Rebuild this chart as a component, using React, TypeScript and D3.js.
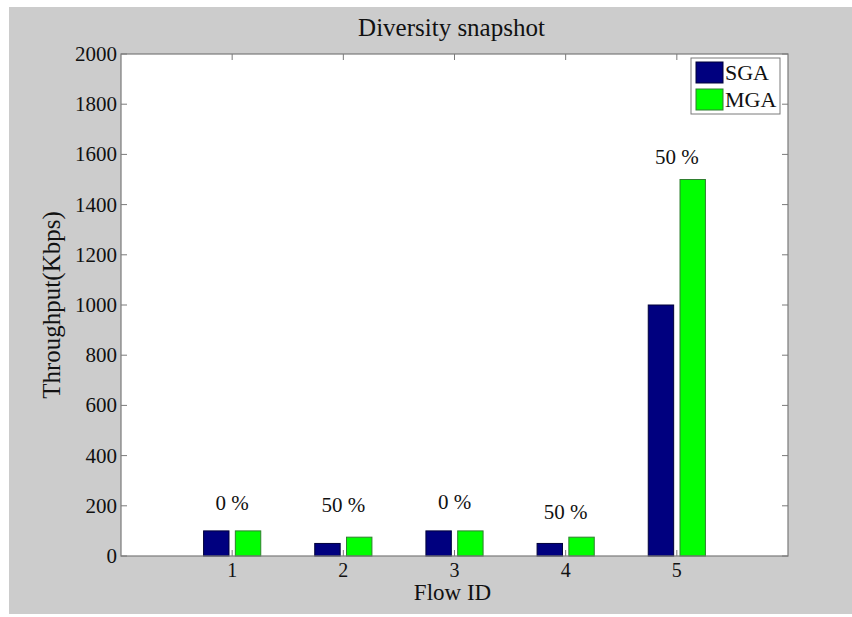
import React from "react";
import * as d3 from "d3";

const categories = [1, 2, 3, 4, 5];
const seriesNames = ["SGA", "MGA"];
const sgaValues = [100, 50, 100, 50, 1000];
const mgaValues = [100, 75, 100, 75, 1500];
const barLabels = ["0 %", "50 %", "0 %", "50 %", "50 %"];
const labelValues = [211, 203, 215, 175, 1590];
const yTicks = [0, 200, 400, 600, 800, 1000, 1200, 1400, 1600, 1800, 2000];
const xTicks = [1, 2, 3, 4, 5];

const W = 852;
const H = 617;
const left = 121;
const right = 788;
const top = 54;
const bottom = 556;
const FONT = "'Liberation Serif', 'Times New Roman', serif";
const AX = "#7a7a7a";
const colors = ["#00007f", "#00ff00"];
const edges = ["#00003a", "#2f7f2f"];

export default function App() {
  const x = d3.scaleLinear().domain([0, 6]).range([left, right]);
  const y = d3.scaleLinear().domain([0, 2000]).range([bottom, top]);
  const series = [sgaValues, mgaValues];
  const groupWidth = Math.min(0.8, 2 / (2 + 1.5));
  const barW = (groupWidth / 2) * 0.8;
  const offsets = [-groupWidth / 4, groupWidth / 4];
  const tl = 6;

  return (
    <svg
      width={W}
      height={H}
      style={{ position: "absolute", left: 0, top: 0 }}
      fontFamily={FONT}
    >
      <rect x={0} y={0} width={W} height={H} fill="#ffffff" />
      <rect x={9} y={7} width={W - 9} height={607} fill="#cccccc" />
      <rect x={left} y={top} width={right - left} height={bottom - top} fill="#ffffff" />

      {/* bars */}
      {series.map((vals, si) =>
        vals.map((v, i) => {
          const cx = categories[i] + offsets[si];
          const x0 = x(cx - barW / 2);
          const x1 = x(cx + barW / 2);
          return (
            <rect
              key={`b${si}-${i}`}
              x={x0}
              y={y(v)}
              width={x1 - x0}
              height={y(0) - y(v)}
              fill={colors[si]}
              stroke={edges[si]}
              strokeWidth={1}
            />
          );
        })
      )}

      {/* bar labels */}
      {barLabels.map((t, i) => (
        <text
          key={`l${i}`}
          x={x(categories[i])}
          y={y(labelValues[i])}
          dy="0.35em"
          textAnchor="middle"
          fontSize={21}
          fill="#111"
        >
          {t}
        </text>
      ))}

      {/* axes box */}
      <rect x={left} y={top} width={right - left} height={bottom - top} fill="none" stroke={AX} strokeWidth={1.2} />

      {/* y ticks */}
      {yTicks.map((t) => (
        <g key={`yt${t}`}>
          <line x1={left} x2={left + tl} y1={y(t)} y2={y(t)} stroke={AX} />
          <line x1={right} x2={right - tl} y1={y(t)} y2={y(t)} stroke={AX} />
          <text x={left - 4} y={y(t)} dy="0.33em" textAnchor="end" fontSize={21} fill="#111">
            {t}
          </text>
        </g>
      ))}

      {/* x ticks */}
      {xTicks.map((t) => (
        <g key={`xt${t}`}>
          <line x1={x(t)} x2={x(t)} y1={bottom} y2={bottom - tl} stroke={AX} />
          <line x1={x(t)} x2={x(t)} y1={top} y2={top + tl} stroke={AX} />
          <text x={x(t)} y={577} textAnchor="middle" fontSize={20} fill="#111">
            {t}
          </text>
        </g>
      ))}

      {/* title and axis labels */}
      <text x={(left + right) / 2 - 3} y={36} textAnchor="middle" fontSize={25} fill="#111">
        Diversity snapshot
      </text>
      <text x={(left + right) / 2 - 2} y={600} textAnchor="middle" fontSize={23} fill="#111">
        Flow ID
      </text>
      <text
        transform={`translate(60, ${(top + bottom) / 2}) rotate(-90)`}
        textAnchor="middle"
        fontSize={25}
        fill="#111"
      >
        Throughput(Kbps)
      </text>

      {/* legend */}
      <g>
        <rect x={691} y={58} width={89} height={56} fill="#ffffff" stroke={AX} strokeWidth={1} />
        {seriesNames.map((n, i) => (
          <g key={n}>
            <rect x={696} y={62 + i * 27} width={27} height={21} fill={colors[i]} stroke={edges[i]} />
            <text x={725} y={80 + i * 27} fontSize={22} fill="#111">
              {n}
            </text>
          </g>
        ))}
      </g>
    </svg>
  );
}
